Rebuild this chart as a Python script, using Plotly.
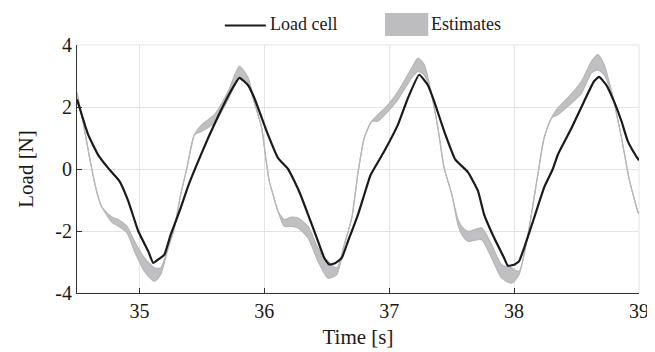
import plotly.graph_objects as go

# ---- data ----
t_load = [34.50, 34.59, 34.67, 34.76, 34.84, 34.91, 34.99, 35.07, 35.11, 35.16, 35.20, 35.25,
          35.33, 35.39, 35.46, 35.55, 35.65, 35.73, 35.80, 35.87, 35.92, 35.97, 36.03, 36.11,
          36.19, 36.24, 36.29, 36.35, 36.42, 36.48, 36.52, 36.57, 36.62, 36.67, 36.75, 36.80,
          36.85, 36.96, 37.07, 37.15, 37.24, 37.31, 37.36, 37.44, 37.53, 37.63, 37.71, 37.76,
          37.84, 37.92, 37.95, 38.00, 38.04, 38.08, 38.16, 38.24, 38.31, 38.35, 38.46, 38.56,
          38.64, 38.68, 38.74, 38.80, 38.86, 38.91, 38.97, 39.00]
load = [2.25, 1.10, 0.45, -0.02, -0.39, -1.03, -2.00, -2.65, -3.03, -2.89, -2.76, -2.12,
        -1.26, -0.55, 0.15, 1.00, 1.87, 2.50, 2.94, 2.70, 2.29, 1.75, 1.10, 0.35,
        0.00, -0.39, -0.83, -1.47, -2.22, -2.87, -3.08, -3.03, -2.87, -2.33, -1.47, -0.83,
        -0.20, 0.57, 1.43, 2.29, 3.04, 2.70, 2.18, 1.22, 0.30, -0.10, -0.70, -1.47,
        -2.22, -2.87, -3.12, -3.09, -2.97, -2.55, -1.58, -0.60, 0.00, 0.46, 1.32, 2.18,
        2.83, 2.97, 2.70, 2.18, 1.54, 0.90, 0.46, 0.28]

t_est = [34.50, 34.55, 34.60, 34.65, 34.69, 34.73, 34.78, 34.83, 34.90, 34.96, 35.04, 35.12,
         35.17, 35.23, 35.28, 35.33, 35.38, 35.44, 35.50, 35.60, 35.71, 35.80, 35.87, 35.92,
         35.98, 36.01, 36.04, 36.07, 36.11, 36.16, 36.22, 36.27, 36.35, 36.43, 36.51, 36.58,
         36.64, 36.70, 36.75, 36.80, 36.86, 36.91, 36.99, 37.07, 37.18, 37.23, 37.28, 37.34,
         37.39, 37.44, 37.50, 37.55, 37.58, 37.63, 37.74, 37.82, 37.90, 37.98, 38.04, 38.11,
         38.19, 38.24, 38.30, 38.35, 38.43, 38.54, 38.62, 38.67, 38.72, 38.78, 38.86, 38.92,
         38.99, 39.00]
est_upper = [2.46, 1.48, 0.38, -0.60, -1.15, -1.38, -1.55, -1.63, -1.85, -2.33, -2.87, -3.19,
             -3.19, -2.54, -1.90, -0.83, 0.03, 1.10, 1.43, 1.75, 2.50, 3.31, 2.94, 2.16,
             1.30, 0.40, -0.40, -0.83, -1.37, -1.63, -1.55, -1.58, -1.85, -2.55, -2.98, -3.19,
             -2.44, -1.58, -0.12, 1.00, 1.54, 1.75, 2.07, 2.50, 3.26, 3.58, 3.37, 2.40,
             1.32, 0.03, -0.80, -1.62, -1.85, -2.01, -1.90, -2.44, -3.09, -3.19, -3.30, -2.12,
             -0.18, 1.00, 1.65, 1.97, 2.29, 2.83, 3.47, 3.69, 3.37, 2.50, 1.00, -0.30,
             -1.37, -1.45]
est_lower = [2.46, 1.48, 0.38, -0.60, -1.15, -1.43, -1.72, -1.84, -2.06, -2.65, -3.30, -3.62,
             -3.40, -2.56, -1.90, -0.83, 0.03, 1.10, 1.22, 1.48, 2.24, 2.94, 2.72, 2.14,
             1.30, 0.40, -0.40, -0.83, -1.37, -1.85, -1.85, -1.90, -2.22, -2.98, -3.52, -3.41,
             -2.46, -1.58, -0.12, 1.00, 1.54, 1.54, 1.86, 2.24, 2.94, 3.15, 3.04, 2.38,
             1.32, 0.03, -0.80, -1.80, -2.10, -2.33, -2.28, -2.87, -3.52, -3.68, -3.40, -2.14,
             -0.18, 1.00, 1.65, 1.75, 2.02, 2.45, 3.10, 3.20, 3.04, 2.48, 1.00, -0.30,
             -1.37, -1.45]

x_ticks = [35, 36, 37, 38, 39]
x_tick_text = ["35", "36", "37", "38", "39"]
y_ticks = [-4, -2, 0, 2, 4]
y_tick_text = ["-4", "-2", "0", "2", "4"]
legend_names = ["Load cell", "Estimates"]

FONT = "Liberation Serif"
TXT = "#1a1a1a"
BAND_FILL = "rgba(185,185,187,0.9)"
BAND_EDGE = "#b6b6b8"

fig = go.Figure()
fig.add_trace(go.Scatter(x=t_est, y=est_lower, mode="lines",
                         line=dict(color=BAND_EDGE, width=1.2, shape="spline", smoothing=0.6),
                         hoverinfo="skip", showlegend=False))
fig.add_trace(go.Scatter(x=t_est, y=est_upper, mode="lines", fill="tonexty", fillcolor=BAND_FILL,
                         line=dict(color=BAND_EDGE, width=1.2, shape="spline", smoothing=0.6),
                         name=legend_names[1], showlegend=False))
fig.add_trace(go.Scatter(x=t_load, y=load, mode="lines",
                         line=dict(color=TXT, width=2.2, shape="spline", smoothing=0.4),
                         name=legend_names[0], showlegend=False))

# manual legend (paper coordinates)
fig.add_shape(type="line", xref="paper", yref="paper", x0=0.263, x1=0.336, y0=1.079, y1=1.079,
              line=dict(color=TXT, width=2))
fig.add_annotation(xref="paper", yref="paper", x=0.340, y=1.083, text=legend_names[0], showarrow=False,
                   xanchor="left", yanchor="middle", font=dict(family=FONT, size=18, color=TXT))
fig.add_shape(type="rect", xref="paper", yref="paper", x0=0.548, x1=0.625, y0=1.036, y1=1.129,
              line=dict(width=0), fillcolor="#bdbdbf")
fig.add_annotation(xref="paper", yref="paper", x=0.627, y=1.083, text=legend_names[1], showarrow=False,
                   xanchor="left", yanchor="middle", font=dict(family=FONT, size=18, color=TXT))

fig.update_layout(
    width=655, height=352,
    margin=dict(l=69, r=24, t=37, b=67),
    paper_bgcolor="white", plot_bgcolor="white",
    font=dict(family=FONT, size=20, color=TXT),
    showlegend=False,
)
fig.update_xaxes(range=[34.5, 39], tickvals=x_ticks, ticktext=x_tick_text, ticks="inside", ticklen=5,
                 tickcolor="#333", showline=True, linecolor="#333", linewidth=1.2, showgrid=True,
                 gridcolor="#e3e3e3", gridwidth=1, zeroline=False,
                 tickfont=dict(family=FONT, size=20, color=TXT),
                 title=dict(text="Time [s]", font=dict(family=FONT, size=21, color=TXT), standoff=8))
fig.update_yaxes(range=[-4, 4], tickvals=y_ticks, ticktext=y_tick_text, ticks="inside", ticklen=5,
                 tickcolor="#333", showline=True, linecolor="#333", linewidth=1.2, showgrid=True,
                 gridcolor="#e3e3e3", gridwidth=1, zeroline=False,
                 tickfont=dict(family=FONT, size=20, color=TXT),
                 title=dict(text="Load [N]", font=dict(family=FONT, size=21, color=TXT), standoff=15))
# top/right grid borders
fig.add_shape(type="line", xref="paper", yref="paper", x0=0, x1=1, y0=1, y1=1,
              line=dict(color="#e3e3e3", width=1), layer="below")
fig.add_shape(type="line", xref="paper", yref="paper", x0=1, x1=1, y0=0, y1=1,
              line=dict(color="#e3e3e3", width=1), layer="below")

fig.write_html("out.html")
